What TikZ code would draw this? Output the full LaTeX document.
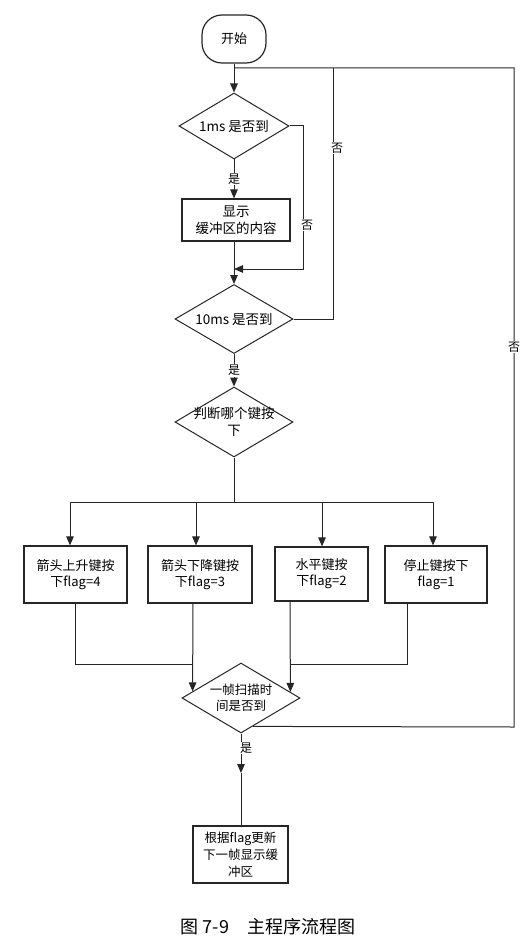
\documentclass[tikz,border=0pt]{standalone}
\usepackage{fontspec}
\setmainfont{Noto Sans CJK SC}
\usetikzlibrary{arrows.meta,shapes.geometric,calc}
\begin{document}
\begin{tikzpicture}[x=1pt,y=-1pt,
  line/.style={draw=black!85, line width=1pt},
  arr/.style={line, -{Triangle[length=9pt,width=7.5pt]}},
  box/.style={draw=black!85, line width=1.2pt, rectangle, inner sep=0pt, align=center, font=\fontsize{13}{16}\selectfont},
  dia/.style={draw=black!85, line width=1pt, diamond, inner sep=0pt},
  txt/.style={align=center, font=\fontsize{13.5}{17}\selectfont, inner sep=0pt},
  lab/.style={fill=white, inner sep=1pt, font=\fontsize{12}{14}\selectfont}]
\useasboundingbox (0,0) rectangle (528,944);

% nodes
\node[box, rounded corners=20pt, minimum width=64pt, minimum height=48pt] (start) at (234,39) {开始};
\node[dia, minimum width=110pt, minimum height=66pt] (d1) at (234,126) {};
\node[txt] (d1t) at (d1.center) {1ms 是否到};
\node[box, minimum width=108pt, minimum height=42pt, font=\fontsize{13.5}{17}\selectfont] (disp) at (236,220) {显示\\缓冲区的内容};
\node[dia, minimum width=118pt, minimum height=69pt] (d2) at (234,319) {};
\node[txt] (d2t) at (d2.center) {10ms 是否到};
\node[dia, minimum width=118pt, minimum height=70pt] (d3) at (234,422) {};
\node[txt] (d3t) at (d3.center) {判断哪个键按\\下};
\node[box, minimum width=103pt, minimum height=57pt] (b1) at (75.5,574.5) {箭头上升键按\\下flag=4};
\node[box, minimum width=104pt, minimum height=57pt] (b2) at (200,574.5) {箭头下降键按\\下flag=3};
\node[box, minimum width=93pt, minimum height=54pt] (b3) at (321.5,574) {水平键按\\下flag=2};
\node[box, minimum width=102pt, minimum height=57pt] (b4) at (436,574.5) {停止键按下\\flag=1};
\node[dia, minimum width=118pt, minimum height=70pt] (d4) at (241,698) {};
\node[txt, font=\fontsize{12.5}{16}\selectfont] (d4t) at (d4.center) {一帧扫描时\\间是否到};
\node[box, minimum width=95pt, minimum height=57pt, font=\fontsize{12.5}{17}\selectfont] (fin) at (240.5,854.5) {根据flag更新\\下一帧显示缓\\冲区};
\node[font=\fontsize{18}{20}\selectfont, inner sep=0pt] (cap) at (268,927) {图 7-9\quad 主程序流程图};

% coordinates
\coordinate (top) at (234,68);
\coordinate (r1) at (514,727);
\coordinate (r2) at (514,68);
\coordinate (c1) at (333,319);
\coordinate (c2) at (333,68);
\coordinate (n1) at (303,126);
\coordinate (n2) at (303,269);
\coordinate (m1) at (234,269);
\coordinate (split) at (234,502);
\coordinate (j1) at (193,664);
\coordinate (j2) at (290,664);
\coordinate (mid) at (241,773);

% connectors
\draw[arr] (start.south) -- (d1.north);
\draw[line] ($(d4.south)!0.2!(d4.east)$) -- (r1) -- (r2) -- (top);
\node[lab] (no3) at (514,347) {否};
\draw[line] (d2.east) -- (c1) -- (c2);
\node[lab] (no2) at (337,148) {否};
\draw[arr] (d1.south) -- (d1.south |- disp.north) node[lab, midway] (yes1) {是};
\draw[arr] (d1.east) -- (n1) -- (n2) -- (m1);
\node[lab] (no1) at (307,225) {否};
\draw[arr] (d1.south |- disp.south) -- (d2.north);
\draw[arr] (d2.south) -- (d3.north) node[lab, midway] (yes2) {是};
\draw[line] (d3.south) -- (split);
\draw[arr] (split) -| ([xshift=-5.5pt]b1.north);
\draw[arr] (split) -| ([xshift=-4pt]b2.north);
\draw[arr] (split) -| ([xshift=0.5pt]b3.north);
\draw[arr] (split) -| ([xshift=-3pt]b4.north);
\draw[line] ([xshift=-0.5pt]b1.south) |- (j1);
\draw[arr] ([xshift=-7pt]b2.south) -- ($(d4.west)!0.186!(d4.north)$);
\draw[arr] ([xshift=-31.5pt]b3.south) -- ($(d4.north)!0.83!(d4.east)$);
\draw[line] ([xshift=-29pt]b4.south) |- (j2);
\draw[arr] (d4.south) -- (mid);
\draw[line] (mid) -- (fin.north -| mid);
\node[lab] (yes3) at (246,748) {是};
\end{tikzpicture}
\end{document}
